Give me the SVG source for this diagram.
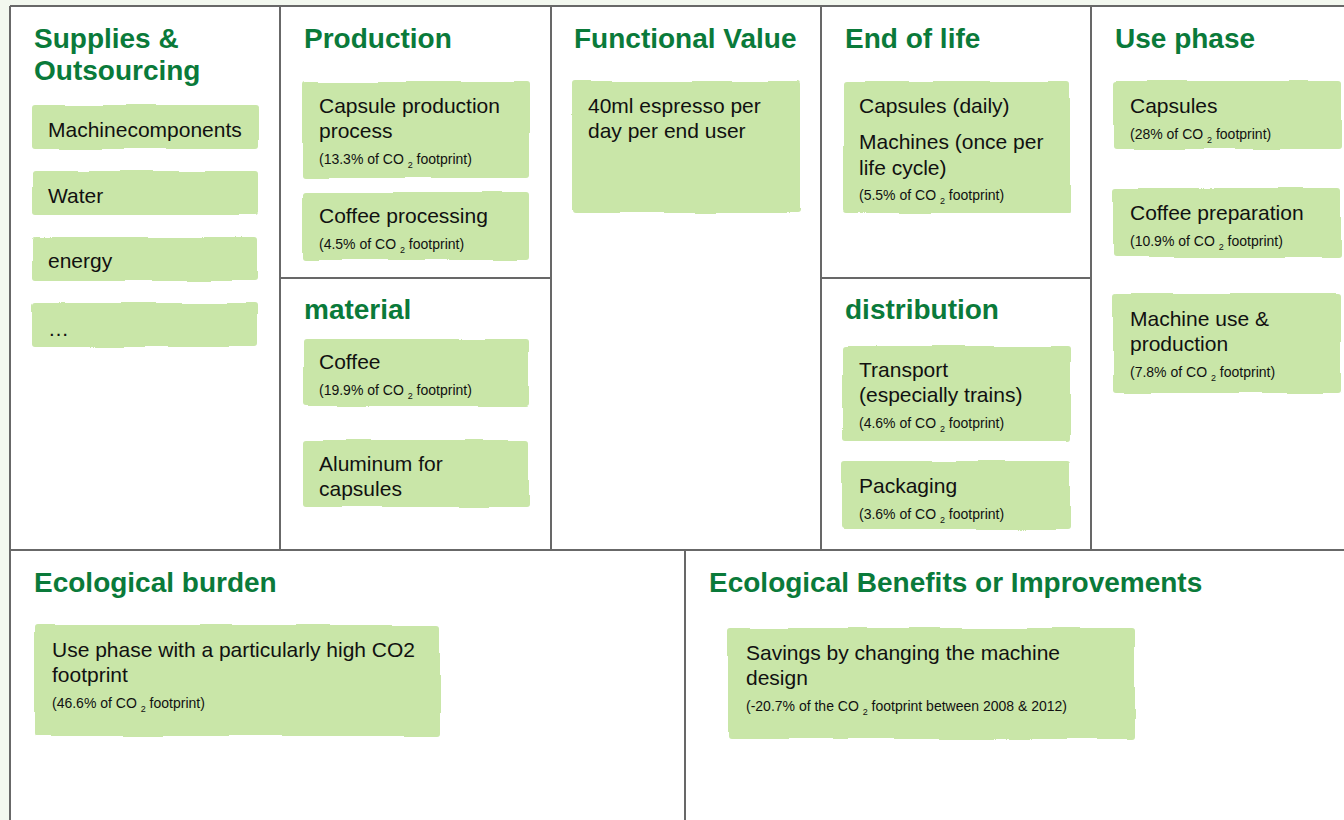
<svg xmlns="http://www.w3.org/2000/svg" width="1344" height="820" viewBox="0 0 1344 820">
  <defs>
    <!-- gently wavy, hand-cut edge for the sticky notes -->
    <filter id="rough" x="-5%" y="-10%" width="110%" height="120%">
      <feTurbulence type="fractalNoise" baseFrequency="0.018" numOctaves="1" seed="5" result="noise"/>
      <feDisplacementMap in="SourceGraphic" in2="noise" scale="5" xChannelSelector="R" yChannelSelector="G"/>
    </filter>
    <style>
      .bg { fill: #f3f8ef; }
      .sheet { fill: #ffffff; }
      .grid line { stroke: #686868; stroke-width: 2; }
      .note { fill: #c9e6a8; filter: url(#rough); }
      .h { font-family: "Liberation Sans", Arial, sans-serif; font-weight: bold; font-size: 28px; fill: #0a7a3a; }
      .t { font-family: "Liberation Sans", Arial, sans-serif; font-size: 21px; fill: #111111; }
      .s { font-family: "Liberation Sans", Arial, sans-serif; font-size: 14px; fill: #111111; }
      .sub { font-size: 9px; }
    </style>
  </defs>

  <!-- page background and canvas sheet -->
  <rect class="bg" x="0" y="0" width="1344" height="820"/>
  <rect class="sheet" x="10" y="6" width="1340" height="820"/>

  <!-- canvas grid -->
  <g id="grid" class="grid">
    <line x1="10" y1="6" x2="1344" y2="6"/>
    <line x1="10" y1="6" x2="10" y2="820"/>
    <line x1="280" y1="6" x2="280" y2="550"/>
    <line x1="551" y1="6" x2="551" y2="550"/>
    <line x1="821" y1="6" x2="821" y2="550"/>
    <line x1="1091" y1="6" x2="1091" y2="550"/>
    <line x1="280" y1="278" x2="551" y2="278"/>
    <line x1="821" y1="278" x2="1091" y2="278"/>
    <line x1="10" y1="550" x2="1344" y2="550"/>
    <line x1="685" y1="550" x2="685" y2="820"/>
  </g>

  <!-- section headings -->
  <g id="headings">
    <text class="h" x="34" y="48">Supplies &amp;</text>
    <text class="h" x="34" y="80">Outsourcing</text>
    <text class="h" x="304" y="48">Production</text>
    <text class="h" x="574" y="48">Functional Value</text>
    <text class="h" x="845" y="48">End of life</text>
    <text class="h" x="1115" y="48">Use phase</text>
    <text class="h" x="304" y="319">material</text>
    <text class="h" x="845" y="319">distribution</text>
    <text class="h" x="34" y="592">Ecological burden</text>
    <text class="h" x="709" y="592">Ecological Benefits or Improvements</text>
  </g>

  <!-- Supplies & Outsourcing -->
  <g id="note-machinecomponents">
    <rect class="note" x="32" y="105" width="226" height="44" rx="3"/>
    <text class="t" x="48" y="137">Machinecomponents</text>
  </g>
  <g id="note-water">
    <rect class="note" x="32" y="171" width="226" height="44" rx="3"/>
    <text class="t" x="48" y="203">Water</text>
  </g>
  <g id="note-energy">
    <rect class="note" x="32" y="237" width="226" height="44" rx="3"/>
    <text class="t" x="48" y="268">energy</text>
  </g>
  <g id="note-more">
    <rect class="note" x="32" y="303" width="226" height="44" rx="3"/>
    <text class="t" x="48" y="336">…</text>
  </g>

  <!-- Production -->
  <g id="note-capsule-production">
    <rect class="note" x="303" y="82" width="226" height="96" rx="3"/>
    <text class="t" x="319" y="113">Capsule production</text>
    <text class="t" x="319" y="138">process</text>
    <text class="s" x="319" y="164">(13.3% of CO <tspan class="sub" dy="4">2</tspan><tspan dy="-4"> footprint)</tspan></text>
  </g>
  <g id="note-coffee-processing">
    <rect class="note" x="303" y="192" width="226" height="68" rx="3"/>
    <text class="t" x="319" y="223">Coffee processing</text>
    <text class="s" x="319" y="249">(4.5% of CO <tspan class="sub" dy="4">2</tspan><tspan dy="-4"> footprint)</tspan></text>
  </g>

  <!-- material -->
  <g id="note-coffee">
    <rect class="note" x="303" y="339" width="226" height="67" rx="3"/>
    <text class="t" x="319" y="369">Coffee</text>
    <text class="s" x="319" y="395">(19.9% of CO <tspan class="sub" dy="4">2</tspan><tspan dy="-4"> footprint)</tspan></text>
  </g>
  <g id="note-aluminum">
    <rect class="note" x="303" y="440" width="226" height="67" rx="3"/>
    <text class="t" x="319" y="471">Aluminum for</text>
    <text class="t" x="319" y="496">capsules</text>
  </g>

  <!-- Functional Value -->
  <g id="note-functional-value">
    <rect class="note" x="572" y="81" width="228" height="132" rx="3"/>
    <text class="t" x="588" y="113">40ml espresso per</text>
    <text class="t" x="588" y="138">day per end user</text>
  </g>

  <!-- End of life -->
  <g id="note-end-of-life">
    <rect class="note" x="843" y="82" width="227" height="131" rx="3"/>
    <text class="t" x="859" y="113">Capsules (daily)</text>
    <text class="t" x="859" y="149">Machines (once per</text>
    <text class="t" x="859" y="175">life cycle)</text>
    <text class="s" x="859" y="200">(5.5% of CO <tspan class="sub" dy="4">2</tspan><tspan dy="-4"> footprint)</tspan></text>
  </g>

  <!-- distribution -->
  <g id="note-transport">
    <rect class="note" x="842" y="346" width="228" height="95" rx="3"/>
    <text class="t" x="859" y="377">Transport</text>
    <text class="t" x="859" y="402">(especially trains)</text>
    <text class="s" x="859" y="428">(4.6% of CO <tspan class="sub" dy="4">2</tspan><tspan dy="-4"> footprint)</tspan></text>
  </g>
  <g id="note-packaging">
    <rect class="note" x="842" y="461" width="228" height="68" rx="3"/>
    <text class="t" x="859" y="493">Packaging</text>
    <text class="s" x="859" y="519">(3.6% of CO <tspan class="sub" dy="4">2</tspan><tspan dy="-4"> footprint)</tspan></text>
  </g>

  <!-- Use phase -->
  <g id="note-use-capsules">
    <rect class="note" x="1113" y="81" width="228" height="68" rx="3"/>
    <text class="t" x="1130" y="113">Capsules</text>
    <text class="s" x="1130" y="139">(28% of CO <tspan class="sub" dy="4">2</tspan><tspan dy="-4"> footprint)</tspan></text>
  </g>
  <g id="note-coffee-preparation">
    <rect class="note" x="1113" y="188" width="228" height="69" rx="3"/>
    <text class="t" x="1130" y="220">Coffee preparation</text>
    <text class="s" x="1130" y="246">(10.9% of CO <tspan class="sub" dy="4">2</tspan><tspan dy="-4"> footprint)</tspan></text>
  </g>
  <g id="note-machine-use">
    <rect class="note" x="1113" y="294" width="228" height="99" rx="3"/>
    <text class="t" x="1130" y="326">Machine use &amp;</text>
    <text class="t" x="1130" y="351">production</text>
    <text class="s" x="1130" y="377">(7.8% of CO <tspan class="sub" dy="4">2</tspan><tspan dy="-4"> footprint)</tspan></text>
  </g>

  <!-- Ecological burden -->
  <g id="note-burden">
    <rect class="note" x="35" y="625" width="405" height="111" rx="3"/>
    <text class="t" x="52" y="657">Use phase with a particularly high CO2</text>
    <text class="t" x="52" y="682">footprint</text>
    <text class="s" x="52" y="708">(46.6% of CO <tspan class="sub" dy="4">2</tspan><tspan dy="-4"> footprint)</tspan></text>
  </g>

  <!-- Ecological benefits -->
  <g id="note-benefits">
    <rect class="note" x="728" y="628" width="407" height="111" rx="3"/>
    <text class="t" x="746" y="660">Savings by changing the machine</text>
    <text class="t" x="746" y="685">design</text>
    <text class="s" x="746" y="711">(-20.7% of the CO <tspan class="sub" dy="4">2</tspan><tspan dy="-4"> footprint between 2008 &amp; 2012)</tspan></text>
  </g>
</svg>
